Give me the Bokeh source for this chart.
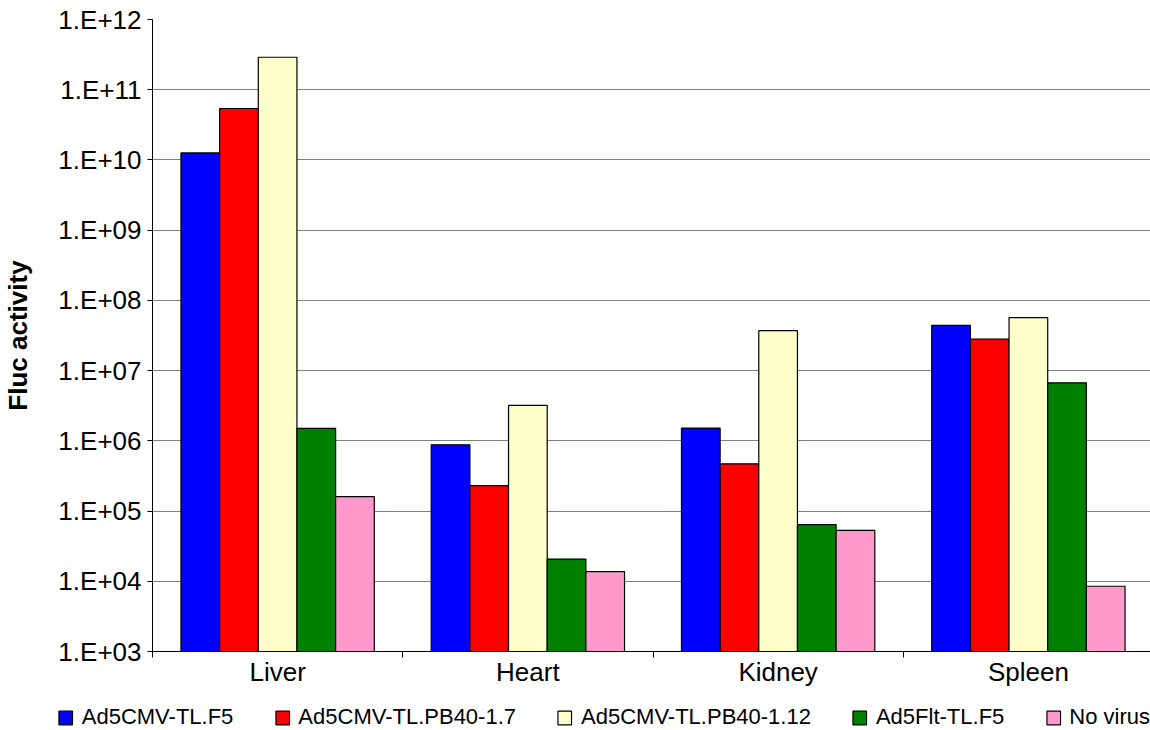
import numpy as np
from bokeh.plotting import figure
from bokeh.models import (ColumnDataSource, Range1d, FixedTicker,
                          CustomJSTickFormatter, Legend, LegendItem)
from bokeh.embed import file_html
from bokeh.resources import INLINE

# ---------------- data ----------------
organs = ["Liver", "Heart", "Kidney", "Spleen"]
series_names = ["Ad5CMV-TL.F5", "Ad5CMV-TL.PB40-1.7", "Ad5CMV-TL.PB40-1.12",
                "Ad5Flt-TL.F5", "No virus"]
series_colors = ["#0000FF", "#FF0000", "#FFFFCC", "#008000", "#FF99CC"]

ad5cmv_tl_f5 = [1.26e10, 8.8e5, 1.52e6, 4.4e7]
ad5cmv_tl_pb40_1_7 = [5.4e10, 2.3e5, 4.7e5, 2.8e7]
ad5cmv_tl_pb40_1_12 = [2.9e11, 3.2e6, 3.7e7, 5.7e7]
ad5flt_tl_f5 = [1.5e6, 2.07e4, 6.4e4, 6.7e6]
no_virus = [1.6e5, 1.37e4, 5.3e4, 8.5e3]

y_ticks = [1e3, 1e4, 1e5, 1e6, 1e7, 1e8, 1e9, 1e10, 1e11, 1e12]

series_values = [ad5cmv_tl_f5, ad5cmv_tl_pb40_1_7, ad5cmv_tl_pb40_1_12,
                 ad5flt_tl_f5, no_virus]

# ---------------- main chart ----------------
FONT = "Liberation Sans"
p = figure(width=1150, height=700, output_backend="svg", toolbar_location=None,
           x_range=Range1d(0, 3.988), y_range=Range1d(y_ticks[0], y_ticks[-1]),
           y_axis_type="log",
           min_border_left=152, min_border_right=0, min_border_top=19,
           min_border_bottom=49)
p.outline_line_color = None
p.background_fill_color = "white"
p.border_fill_color = "white"

# legend strip (separate root, so it is not aligned to the chart frame)
lp = figure(width=1150, height=30, output_backend="svg", toolbar_location=None,
            x_range=Range1d(0, 1), y_range=Range1d(0, 1),
            x_axis_location=None, y_axis_location=None,
            min_border=0, min_border_left=0, min_border_right=0,
            min_border_top=0, min_border_bottom=0)
lp.outline_line_color = None
lp.xgrid.visible = False
lp.ygrid.visible = False
lp.background_fill_color = "white"
lp.border_fill_color = "white"

bar_w = 0.1545
cat_centers = np.arange(len(organs)) + 0.5
legend_renderers = []
for j, (name, col, vals) in enumerate(zip(series_names, series_colors, series_values)):
    src = ColumnDataSource(dict(x=cat_centers + (j - 2) * bar_w, top=vals,
                                bottom=[y_ticks[0]] * len(vals)))
    p.vbar(x="x", top="top", bottom="bottom", width=bar_w, source=src,
           fill_color=col, line_color="black", line_width=1.2)
    # same glyph, hidden, only supplies the legend swatch
    lr = lp.vbar(x="x", top="top", bottom="bottom", width=bar_w, source=src,
                 fill_color=col, line_color="black", line_width=1.2)
    lr.visible = False
    legend_renderers.append(lr)

# y axis
yt = FixedTicker(ticks=y_ticks)
p.yaxis.ticker = yt
p.ygrid.ticker = yt
p.yaxis.formatter = CustomJSTickFormatter(code="""
const e = Math.round(Math.log10(tick));
return "1.E+" + (e < 10 ? "0" : "") + e;
""")
p.yaxis.major_label_text_font = FONT
p.yaxis.major_label_text_font_size = "26px"
p.yaxis.major_label_text_color = "black"
p.yaxis.major_tick_out = 5
p.yaxis.major_tick_in = 0
p.yaxis.major_label_standoff = 6
p.yaxis.axis_line_color = "black"
p.yaxis.major_tick_line_color = "black"
p.yaxis.axis_label = "Fluc activity"
p.yaxis.axis_label_text_font = FONT
p.yaxis.axis_label_text_font_style = "bold"
p.yaxis.axis_label_text_font_size = "26px"
p.yaxis.axis_label_text_color = "black"
p.yaxis.axis_label_standoff = 22
p.ygrid.grid_line_color = "#808080"
p.ygrid.grid_line_width = 1
p.xgrid.visible = False

# x axis
p.xaxis.ticker = FixedTicker(ticks=list(cat_centers),
                             minor_ticks=list(range(len(organs) + 1)))
p.xaxis.formatter = CustomJSTickFormatter(args=dict(names=organs),
                                          code="return names[Math.floor(tick)];")
p.xaxis.major_tick_out = 0
p.xaxis.major_tick_in = 0
p.xaxis.minor_tick_out = 6
p.xaxis.minor_tick_in = 0
p.xaxis.minor_tick_line_color = "black"
p.xaxis.axis_line_color = "black"
p.xaxis.major_label_text_font = FONT
p.xaxis.major_label_text_font_size = "26px"
p.xaxis.major_label_text_color = "black"
p.xaxis.major_label_standoff = -1

# legend
items = [LegendItem(label=n, renderers=[r]) for n, r in zip(series_names, legend_renderers)]
legend = Legend(items=items, orientation="horizontal", location="bottom_right",
                glyph_width=17, glyph_height=17, label_standoff=8, spacing=40,
                padding=0, margin=0, border_line_color=None,
                background_fill_alpha=0,
                label_text_font=FONT,
                label_text_font_size="22px", label_text_color="black",
                label_height=17)
lp.add_layout(legend, "center")

open("out.html", "w").write(file_html([p, lp], INLINE))
